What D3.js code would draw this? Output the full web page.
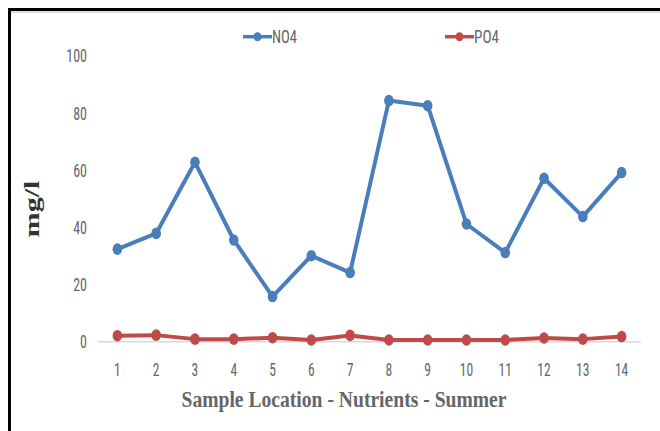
<!DOCTYPE html>
<html>
<head>
<meta charset="utf-8">
<script src="https://cdn.jsdelivr.net/npm/d3@7"></script>
<style>
  body { margin: 0; background: #fff; }
  svg { display: block; }
</style>
</head>
<body>
<div id="chart"></div>
<script>
const width = 660;
const height = 431;

// data
const locations = [1, 2, 3, 4, 5, 6, 7, 8, 9, 10, 11, 12, 13, 14];
const no4 = [32.4, 37.9, 62.8, 35.6, 15.8, 30.1, 24.2, 84.4, 82.6, 41.2, 31.2, 57.2, 43.8, 59.2];
const po4 = [2.1, 2.3, 0.9, 0.9, 1.4, 0.6, 2.2, 0.6, 0.6, 0.6, 0.6, 1.3, 0.9, 1.8];
const yTicks = [0, 20, 40, 60, 80, 100];

const colors = { no4: "#4a7ebb", po4: "#be4b48", text: "#666", axis: "#d9d9d9" };
const narrow = "'Liberation Sans Narrow', 'Roboto Condensed', Arial, sans-serif";

const series = [
  { name: "NO4", values: no4, color: colors.no4, legendX: 243 },
  { name: "PO4", values: po4, color: colors.po4, legendX: 445 }
];

const svg = d3.select("#chart").append("svg")
  .attr("width", width)
  .attr("height", height);

// frame (black on left and top only)
svg.append("line").attr("x1", 8).attr("x2", width).attr("y1", 9.5).attr("y2", 9.5)
  .attr("stroke", "#000").attr("stroke-width", 3);
svg.append("line").attr("x1", 11).attr("x2", width).attr("y1", 12).attr("y2", 12)
  .attr("stroke", "#bbb").attr("stroke-width", 1);
svg.append("line").attr("x1", 9.5).attr("x2", 9.5).attr("y1", 8).attr("y2", height)
  .attr("stroke", "#000").attr("stroke-width", 3);

const x = d3.scaleBand()
  .domain(locations)
  .range([98, 641]);

const y = d3.scaleLinear()
  .domain([0, 100])
  .range([341.7, 56]);

const cx = d => x(d) + x.bandwidth() / 2;

// baseline
svg.append("line")
  .attr("x1", x.range()[0]).attr("x2", x.range()[1])
  .attr("y1", y(0)).attr("y2", y(0))
  .attr("stroke", colors.axis).attr("stroke-width", 1.5);

// y tick labels
svg.selectAll(".ytick").data(yTicks).enter().append("text")
  .attr("class", "ytick")
  .attr("x", 87)
  .attr("y", d => y(d))
  .attr("dy", "0.36em")
  .attr("text-anchor", "end")
  .attr("font-family", narrow)
  .attr("font-size", 18)
  .attr("fill", colors.text)
  .attr("textLength", d => String(d).length * 6.9)
  .attr("lengthAdjust", "spacingAndGlyphs")
  .text(d => d);

// x tick labels
svg.selectAll(".xtick").data(locations).enter().append("text")
  .attr("class", "xtick")
  .attr("x", d => cx(d))
  .attr("y", 375.5)
  .attr("text-anchor", "middle")
  .attr("font-family", narrow)
  .attr("font-size", 18)
  .attr("fill", colors.text)
  .attr("textLength", d => String(d).length * 6.7)
  .attr("lengthAdjust", "spacingAndGlyphs")
  .text(d => d);

// axis titles
svg.append("text")
  .attr("x", 344)
  .attr("y", 407)
  .attr("text-anchor", "middle")
  .attr("font-family", "'Liberation Serif', 'Times New Roman', serif")
  .attr("font-weight", "bold")
  .attr("font-size", 24)
  .attr("fill", colors.text)
  .attr("textLength", 325)
  .attr("lengthAdjust", "spacingAndGlyphs")
  .text("Sample Location - Nutrients -  Summer");

svg.append("text")
  .attr("transform", "translate(39,209) rotate(-90)")
  .attr("text-anchor", "middle")
  .attr("font-family", "'Liberation Serif', 'Times New Roman', serif")
  .attr("font-weight", "bold")
  .attr("font-size", 20)
  .attr("fill", "#333")
  .attr("textLength", 57)
  .attr("lengthAdjust", "spacingAndGlyphs")
  .text("mg/l");

// lines and markers
const line = d3.line()
  .x((d, i) => cx(locations[i]))
  .y(d => y(d));

series.forEach(s => {
  svg.append("path")
    .datum(s.values)
    .attr("fill", "none")
    .attr("stroke", s.color)
    .attr("stroke-width", 4)
    .attr("stroke-linejoin", "round")
    .attr("d", line);

  svg.selectAll(null).data(s.values).enter().append("ellipse")
    .attr("cx", (d, i) => cx(locations[i]))
    .attr("cy", d => y(d))
    .attr("rx", 4.8)
    .attr("ry", 5.8)
    .attr("fill", s.color);
});

// legend
const legend = svg.selectAll(".legend").data(series).enter().append("g")
  .attr("class", "legend")
  .attr("transform", d => `translate(${d.legendX},36.7)`);

legend.append("line")
  .attr("x1", 0).attr("x2", 29)
  .attr("stroke", d => d.color)
  .attr("stroke-width", 3.5);

legend.append("ellipse")
  .attr("cx", 14.5).attr("rx", 4).attr("ry", 4.5)
  .attr("fill", d => d.color);

legend.append("text")
  .attr("x", 29)
  .attr("dy", "0.36em")
  .attr("font-family", narrow)
  .attr("font-size", 18)
  .attr("fill", colors.text)
  .attr("textLength", 25)
  .attr("lengthAdjust", "spacingAndGlyphs")
  .text(d => d.name);
</script>
</body>
</html>
